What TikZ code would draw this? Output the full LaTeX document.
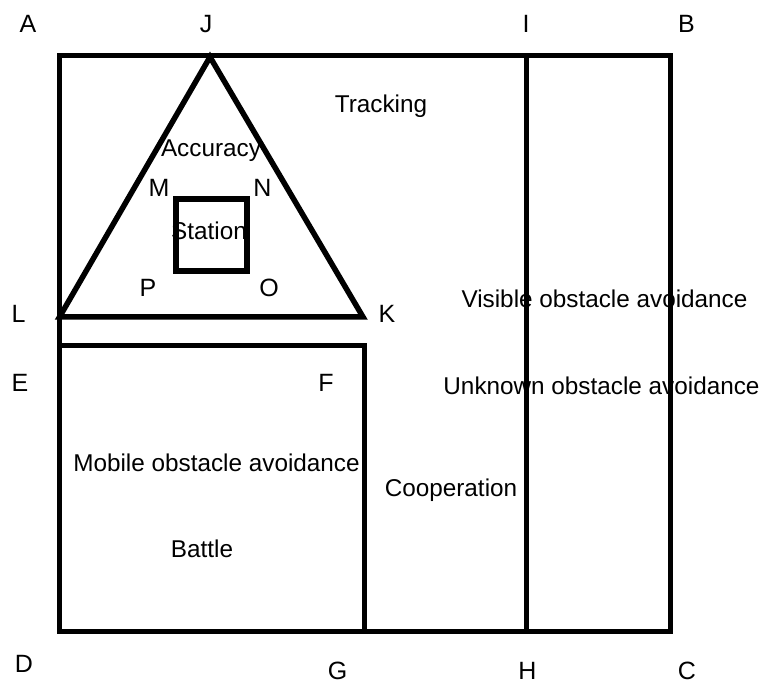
\documentclass[tikz,border=0pt]{standalone}
\usepackage{fontspec}
\setmainfont{Liberation Sans}
\begin{document}
\begin{tikzpicture}[x=1pt,y=-1pt,
  shapeline/.style={line width=5.5pt,line join=miter,draw=black},
  letter/.style={anchor=base,inner sep=0pt,font=\fontsize{25}{30}\selectfont},
  word/.style={anchor=base,inner sep=0pt,font=\fontsize{24.3}{29}\selectfont}]
\useasboundingbox (0,0) rectangle (764,684);
% vertices
\coordinate (a) at (59.5,55.5);
\coordinate (b) at (670.5,55.5);
\coordinate (c) at (670.5,631.5);
\coordinate (d) at (59.5,631.5);
\coordinate (i) at (526.5,55.5);
\coordinate (h) at (526.5,631.5);
\coordinate (j) at (210,57);
\coordinate (l) at (59.5,317);
\coordinate (k) at (363,317);
\coordinate (e) at (59.5,345.5);
\coordinate (f) at (364.5,345.5);
\coordinate (g) at (364.5,631.5);
\coordinate (m) at (176,199);
\coordinate (n) at (247,199);
\coordinate (o) at (247,271);
\coordinate (p) at (176,271);
% shapes
\draw[shapeline] (a) -- (b) -- (c) -- (d) -- cycle;
\draw[shapeline] (i) -- (h);
\draw[shapeline] (j) -- (k) -- (l) -- cycle;
\draw[shapeline] (e) -- (f) -- (g);
\draw[shapeline] (m) -- (n) -- (o) -- (p) -- cycle;
% letters
\node[letter] (lA) at (28,33) {A};
\node[letter] (lJ) at (206,33) {J};
\node[letter] (lI) at (526,33) {I};
\node[letter] (lB) at (686.5,33) {B};
\node[letter] (lL) at (18.5,323) {L};
\node[letter] (lK) at (387,323) {K};
\node[letter] (lM) at (159,197) {M};
\node[letter] (lN) at (262.5,197) {N};
\node[letter] (lP) at (148,297) {P};
\node[letter] (lO) at (269,297) {O};
\node[letter] (lE) at (20,392) {E};
\node[letter] (lF) at (326,392) {F};
\node[letter] (lD) at (24,673) {D};
\node[letter] (lG) at (337.5,680) {G};
\node[letter] (lH) at (527.5,680) {H};
\node[letter] (lC) at (687,680) {C};
% words
\node[word] (tTracking) at (381,113) {Tracking};
\node[word] (tAccuracy) at (211,157) {Accuracy};
\node[word] (tStation) at (209,240) {Station};
\node[word] (tVisible) at (604.5,308) {Visible obstacle avoidance};
\node[word] (tUnknown) at (601.5,395) {Unknown obstacle avoidance};
\node[word] (tMobile) at (216.5,472) {Mobile obstacle avoidance};
\node[word] (tCoop) at (451,497) {Cooperation};
\node[word] (tBattle) at (202,558) {Battle};
\end{tikzpicture}
\end{document}
